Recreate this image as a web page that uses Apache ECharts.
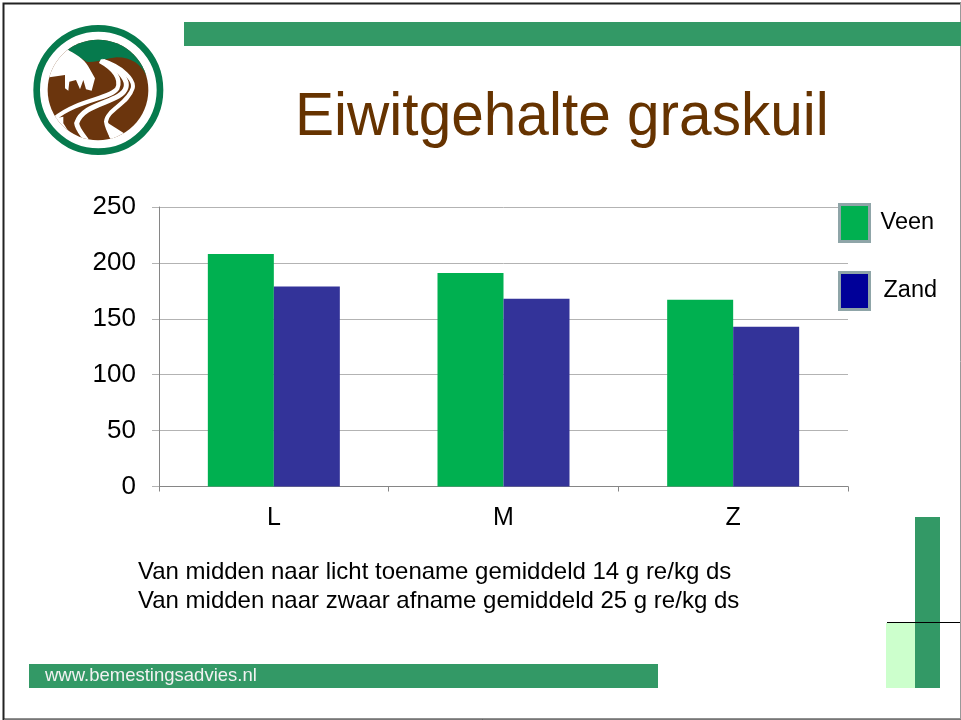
<!DOCTYPE html>
<html>
<head>
<meta charset="utf-8">
<script src="https://cdn.jsdelivr.net/npm/echarts@6/dist/echarts.min.js"></script>
<style>
  html, body { margin: 0; padding: 0; background: #fff; }
  #chart { position: absolute; left: 0; top: 0; width: 961px; height: 720px; }
  /* logo, traced by hand in 3x coordinates */
  #logo { position: absolute; left: 0; top: 0; width: 200px; height: 170px; }
</style>
</head>
<body>
<div id="chart"></div>
<svg id="logo" viewBox="0 0 600 510">
  <defs><clipPath id="disc"><circle cx="294" cy="270" r="151"/></clipPath></defs>
  <circle cx="295" cy="270" r="185" fill="none" stroke="#067a4d" stroke-width="20"/>
  <g clip-path="url(#disc)">
    <rect x="130" y="110" width="330" height="320" fill="#6b350d"/>
    <path d="M130 100 L460 100 L460 240 L438 225 C425 195 395 172 350 172 C320 175 285 190 260 185 L208 152 L130 130Z" fill="#067a4d"/>
    <path d="M100 100 L150 100 L208 152 C235 165 260 185 268 205 L285 235 L275 272 L258 268 L250 240 L240 268 L228 240 L208 245 L205 272 L195 265 L195 225 L148 232 L100 232Z" fill="#fff"/>
    <g fill="none" stroke="#fff" stroke-linecap="butt">
      <path d="M300 183 C340 205 365 235 352 265 C335 295 230 300 165 355" stroke-width="13"/>
      <path d="M305 183 C350 200 385 235 378 262 C365 310 250 305 230 370 C232 390 250 405 262 425" stroke-width="15"/>
      <path d="M310 183 C365 200 405 240 398 265 C385 310 320 330 318 365 C320 385 335 410 342 425" stroke-width="12"/>
    </g>
    <path d="M318 365 L372 400 L345 430 L328 410Z" fill="#fff"/>
    <path d="M165 355 L190 350 L190 370 L225 425 L130 425 L130 330Z" fill="#fff"/>
  </g>
</svg>
<script>
var categories = ["L", "M", "Z"];
var veen = [208, 191, 167];
var zand = [179, 168, 143];
var noteLines = [
  "Van midden naar licht toename gemiddeld 14 g re/kg ds",
  "Van midden naar zwaar afname gemiddeld 25 g re/kg ds"
];
var yTicks = [0, 50, 100, 150, 200, 250];

var fontName = '"Liberation Sans", Arial, sans-serif';
var myChart = echarts.init(document.getElementById("chart"), null, { renderer: "canvas" });

var option = {
  animation: false,
  grid: { left: 159, right: 113, top: 207, bottom: 233.5 },
  xAxis: {
    type: "category",
    data: categories,
    axisLine: { lineStyle: { color: "#868686", width: 1 } },
    axisTick: { show: true, length: 5, lineStyle: { color: "#868686" } },
    axisLabel: { color: "#000", fontFamily: fontName, fontSize: 25, margin: 19 }
  },
  yAxis: {
    type: "value",
    min: 0,
    max: yTicks[yTicks.length - 1],
    interval: 50,
    axisLine: { show: true, lineStyle: { color: "#868686", width: 1 } },
    axisTick: { show: true, length: 7, lineStyle: { color: "#b3b3b3" } },
    splitLine: { lineStyle: { color: "#b3b3b3", width: 1 } },
    axisLabel: { color: "#000", fontFamily: fontName, fontSize: 26, margin: 23, padding: [0, 0, 4, 0] }
  },
  legend: [
    {
      left: 838, top: 203, padding: 0, itemWidth: 30, itemHeight: 37, icon: "rect",
      data: [{ name: "Veen", itemStyle: { color: "#00b050", borderColor: "#8fa5a8", borderWidth: 3 } }],
      textStyle: { color: "#000", fontFamily: fontName, fontSize: 23.5, padding: [0, 0, 2, 6] }
    },
    {
      left: 838, top: 271, padding: 0, itemWidth: 30, itemHeight: 37, icon: "rect",
      data: [{ name: "Zand", itemStyle: { color: "#000099", borderColor: "#8fa5a8", borderWidth: 3 } }],
      textStyle: { color: "#000", fontFamily: fontName, fontSize: 23.5, padding: [0, 0, 2, 9] }
    }
  ],
  series: [
    {
      name: "Veen",
      type: "bar",
      data: veen,
      barWidth: 66,
      barGap: 0,
      itemStyle: { color: "#00b050" }
    },
    {
      name: "Zand",
      type: "bar",
      data: zand,
      barWidth: 66,
      barGap: 0,
      itemStyle: { color: "#333399" }
    }
  ],
  // slide decoration around the chart
  graphic: [
    { type: "rect", shape: { x: 3.5, y: 3.5, width: 960, height: 716 }, style: { fill: "none", stroke: "#222", lineWidth: 2 }, z: 0 },
    { type: "line", shape: { x1: 960.5, y1: 3, x2: 960.5, y2: 720 }, style: { stroke: "#999", lineWidth: 1 } },
    { type: "line", shape: { x1: 4, y1: 719.5, x2: 961, y2: 719.5 }, style: { stroke: "#777", lineWidth: 1 } },
    { type: "rect", shape: { x: 184, y: 22, width: 777, height: 24 }, style: { fill: "#339966" } },
    { type: "rect", shape: { x: 886, y: 623, width: 29, height: 65 }, style: { fill: "#ccffcc" } },
    { type: "rect", shape: { x: 915, y: 517, width: 25, height: 171 }, style: { fill: "#339966" } },
    { type: "line", shape: { x1: 887, y1: 622.5, x2: 960, y2: 622.5 }, style: { stroke: "#000", lineWidth: 1 } },
    { type: "rect", shape: { x: 29, y: 664, width: 629, height: 24 }, style: { fill: "#339966" } },
    // the slide title is a little narrower than the font, hence scaleX
    { type: "text", x: 295, y: 88, scaleX: 0.96, style: { text: "Eiwitgehalte graskuil", fill: "#663300", font: "61px " + fontName } },
    { type: "text", x: 45, y: 666, style: { text: "www.bemestingsadvies.nl", fill: "#f2f2f2", font: "18.5px " + fontName } },
    { type: "text", x: 138, y: 560, style: { text: noteLines[0], fill: "#000", font: "24px " + fontName } },
    { type: "text", x: 138, y: 589, style: { text: noteLines[1], fill: "#000", font: "24px " + fontName } }
  ]
};
myChart.setOption(option);
</script>
</body>
</html>
